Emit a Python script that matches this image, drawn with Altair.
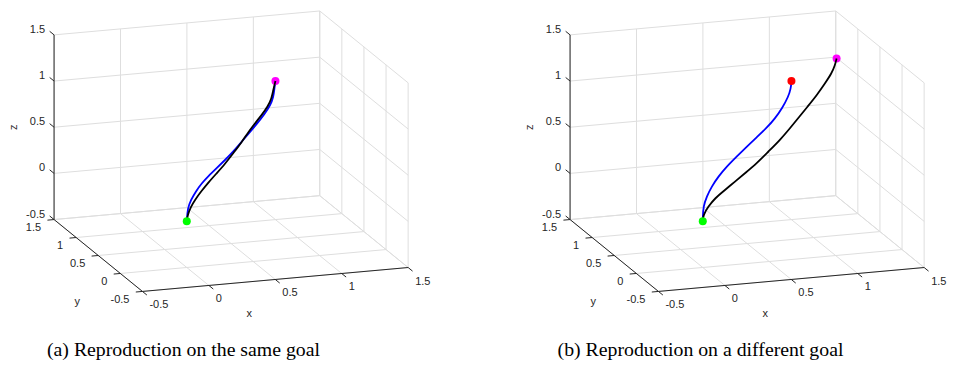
import altair as alt
import numpy as np
import pandas as pd

# ---------------- data ----------------
TICKS = [-0.5, 0.0, 0.5, 1.0, 1.5]
TICK_TEXT = ["-0.5", "0", "0.5", "1", "1.5"]
LO, HI = -0.5, 1.5

# (a) same goal: demonstration (blue) and reproduction (black)
A_BLUE_X = [0.000, 0.010, 0.047, 0.100, 0.168, 0.242, 0.337, 0.431, 0.524, 0.619, 0.713, 0.797, 0.876, 0.944, 0.977, 0.989, 1.000]
A_BLUE_Y = [0.000, 0.010, 0.047, 0.100, 0.168, 0.242, 0.337, 0.431, 0.524, 0.619, 0.713, 0.797, 0.876, 0.944, 0.977, 0.989, 1.000]
A_BLUE_Z = [0.000, 0.137, 0.207, 0.269, 0.325, 0.362, 0.401, 0.440, 0.482, 0.541, 0.597, 0.650, 0.706, 0.769, 0.838, 0.929, 1.000]

A_BLACK_X = [0.000, 0.010, 0.047, 0.092, 0.160, 0.242, 0.337, 0.431, 0.524, 0.619, 0.693, 0.769, 0.844, 0.912, 0.957, 0.975, 1.000]
A_BLACK_Y = [0.000, 0.010, 0.047, 0.092, 0.160, 0.242, 0.337, 0.431, 0.524, 0.619, 0.693, 0.769, 0.844, 0.912, 0.957, 0.975, 1.000]
A_BLACK_Z = [0.000, 0.064, 0.135, 0.184, 0.238, 0.293, 0.345, 0.397, 0.466, 0.535, 0.605, 0.662, 0.712, 0.767, 0.834, 0.915, 1.000]

# (b) different goal
B_BLUE_X = [0.000, 0.001, 0.006, 0.044, 0.100, 0.175, 0.269, 0.382, 0.495, 0.608, 0.720, 0.814, 0.899, 0.964, 0.994, 1.000]
B_BLUE_Y = [0.000, 0.001, 0.006, 0.044, 0.100, 0.175, 0.269, 0.382, 0.495, 0.608, 0.720, 0.814, 0.899, 0.964, 0.994, 1.000]
B_BLUE_Z = [0.000, 0.051, 0.156, 0.245, 0.324, 0.393, 0.452, 0.502, 0.551, 0.595, 0.638, 0.690, 0.765, 0.848, 0.923, 1.000]

B_BLACK_X = [0.000, 0.005, 0.055, 0.122, 0.222, 0.323, 0.422, 0.540, 0.655, 0.773, 0.872, 0.963, 1.053, 1.143, 1.223, 1.290, 1.324, 1.340]
B_BLACK_Y = [0.000, 0.004, 0.041, 0.091, 0.166, 0.241, 0.315, 0.403, 0.489, 0.577, 0.651, 0.719, 0.786, 0.853, 0.913, 0.963, 0.988, 1.000]
B_BLACK_Z = [0.000, 0.067, 0.136, 0.199, 0.246, 0.294, 0.343, 0.401, 0.478, 0.555, 0.640, 0.722, 0.805, 0.888, 0.979, 1.059, 1.135, 1.200]

START = (0.0, 0.0, 0.0)
GOAL_A = (1.0, 1.0, 1.0)
GOAL_B_OLD = (1.0, 1.0, 1.0)
GOAL_B_NEW = (1.34, 1.0, 1.2)

CAPTIONS = ["(a) Reproduction on the same goal", "(b) Reproduction on a different goal"]

# ---------------- 3-D view (orthographic) ----------------
AZ, EL = -18.4, 22.3          # degrees
SH, SV = 140.0, 99.8          # px per unit, horizontal / vertical
CX, CY = 231.1, 151.2         # where the box centre lands inside a panel
PANEL_H = 330

GRID_C = "#dedede"
AXIS_C = "#262626"


def proj(x, y, z):
    a, e = np.radians(AZ), np.radians(EL)
    dx, dy, dz = np.asarray(x) - 0.5, np.asarray(y) - 0.5, np.asarray(z) - 0.5
    u = SH * (dx * np.cos(a) + dy * np.sin(a))
    v = SV * (-dx * np.sin(a) * np.sin(e) + dy * np.cos(a) * np.sin(e) + dz * np.cos(e))
    return u, v


def seg_df(segs):
    rows = []
    for p, q in segs:
        u1, v1 = proj(*p)
        u2, v2 = proj(*q)
        rows.append(dict(u=float(u1), v=float(v1), u2=float(u2), v2=float(v2)))
    return pd.DataFrame(rows)


def grid_segments():
    s = []
    for t in TICKS:
        s.append(((t, HI, LO), (t, HI, HI)))   # back wall verticals
        s.append(((LO, HI, t), (HI, HI, t)))   # back wall horizontals
        s.append(((HI, t, LO), (HI, t, HI)))   # side wall verticals
        s.append(((HI, LO, t), (HI, HI, t)))   # side wall horizontals
        s.append(((t, LO, LO), (t, HI, LO)))   # floor, const x
        s.append(((LO, t, LO), (HI, t, LO)))   # floor, const y
    return s


AXIS_SEGS = [((LO, LO, LO), (HI, LO, LO)),
             ((LO, LO, LO), (LO, HI, LO)),
             ((LO, HI, LO), (LO, HI, HI))]


def tick_segments():
    s = []
    for t in TICKS:
        s.append(((t, LO, LO), (t, LO - 0.1, LO)))
        s.append(((LO, t, LO), (LO - 0.05, t, LO)))
        s.append(((LO, HI, t), (LO, HI + 0.1, t)))
    return s


def label_df(points, texts):
    u, v = proj([p[0] for p in points], [p[1] for p in points], [p[2] for p in points])
    return pd.DataFrame(dict(u=u, v=v, t=texts))


def curve_df(name, xs, ys, zs):
    u, v = proj(xs, ys, zs)
    return pd.DataFrame(dict(u=u, v=v, i=range(len(xs)), s=name))


def panel(width, curves_under, dots, curves_over, caption, title_dx):
    xs = alt.Scale(domain=[-CX, width - CX], nice=False, zero=False)
    ys = alt.Scale(domain=[CY - PANEL_H, CY], nice=False, zero=False)
    X = lambda f="u": alt.X(f"{f}:Q", scale=xs, axis=None)
    Y = lambda f="v": alt.Y(f"{f}:Q", scale=ys, axis=None)

    def rules(df, color, w):
        return alt.Chart(df).mark_rule(color=color, strokeWidth=w).encode(
            x=X(), y=Y(), x2="u2:Q", y2="v2:Q")

    layers = [rules(seg_df(grid_segments()), GRID_C, 1),
              rules(seg_df(AXIS_SEGS), AXIS_C, 1),
              rules(seg_df(tick_segments()), AXIS_C, 1)]

    font = dict(font="Liberation Sans", fontSize=11, color=AXIS_C)
    xl = label_df([(t, LO, LO) for t in TICKS], TICK_TEXT)
    yl = label_df([(LO, t, LO) for t in TICKS], TICK_TEXT)
    zl = label_df([(LO, HI, t) for t in TICKS], TICK_TEXT)
    layers.append(alt.Chart(xl).mark_text(align="left", baseline="middle", dx=7, dy=14, **font)
                  .encode(x=X(), y=Y(), text="t:N"))
    layers.append(alt.Chart(yl).mark_text(align="right", baseline="middle", dx=-13, dy=8.5, **font)
                  .encode(x=X(), y=Y(), text="t:N"))
    layers.append(alt.Chart(zl).mark_text(align="right", baseline="middle", dx=-9, dy=-5, **font)
                  .encode(x=X(), y=Y(), text="t:N"))
    layers.append(alt.Chart(label_df([(0.5, LO, LO)], ["x"])).mark_text(
        align="center", baseline="middle", dx=-26, dy=34.5, **font).encode(x=X(), y=Y(), text="t:N"))
    layers.append(alt.Chart(label_df([(LO, 0.5, LO)], ["y"])).mark_text(
        align="center", baseline="middle", dx=-21, dy=47, **font).encode(x=X(), y=Y(), text="t:N"))
    # rotated text: dy moves it horizontally on screen
    layers.append(alt.Chart(label_df([(LO, HI, 0.5)], ["z"])).mark_text(
        align="center", baseline="middle", dx=0, dy=-40, angle=270, **font).encode(x=X(), y=Y(), text="t:N"))

    col = alt.Color("s:N", scale=alt.Scale(domain=["demo", "repro", "start", "goal", "newgoal"],
                                           range=["#0000ff", "#000000", "#00ff00", "#ff0000", "#ff00ff"]),
                    legend=None)

    for c in curves_under:
        layers.append(alt.Chart(c).mark_line(strokeWidth=1.8, interpolate="basis")
                      .encode(x=X(), y=Y(), order="i:Q", color=col))
    pts = dots[dots["s"] != "start"]
    layers.append(alt.Chart(pts).mark_circle(size=64, opacity=1).encode(x=X(), y=Y(), color=col))
    for c in curves_over:
        layers.append(alt.Chart(c).mark_line(strokeWidth=1.8, interpolate="basis")
                      .encode(x=X(), y=Y(), order="i:Q", color=col))
    st = dots[dots["s"] == "start"]
    layers.append(alt.Chart(st).mark_circle(size=64, opacity=1).encode(x=X(), y=Y(), color=col))

    return alt.layer(*layers).properties(
        width=width, height=PANEL_H,
        view=alt.ViewBackground(stroke="transparent", strokeWidth=0),
        title=alt.TitleParams(text=caption, orient="bottom", anchor="middle", frame="group",
                              dx=title_dx, offset=10, font="Liberation Serif", fontSize=19.8,
                              fontWeight="normal", color="black"))


def dots_df(items):
    xs = [p[0] for _, p in items]
    ys = [p[1] for _, p in items]
    zs = [p[2] for _, p in items]
    u, v = proj(xs, ys, zs)
    return pd.DataFrame(dict(u=u, v=v, s=[n for n, _ in items]))


pa = panel(476,
           [curve_df("demo", A_BLUE_X, A_BLUE_Y, A_BLUE_Z)],
           dots_df([("start", START), ("newgoal", GOAL_A)]),
           [curve_df("repro", A_BLACK_X, A_BLACK_Y, A_BLACK_Z)],
           CAPTIONS[0], -54.5)
pb = panel(437,
           [curve_df("demo", B_BLUE_X, B_BLUE_Y, B_BLUE_Z)],
           dots_df([("start", START), ("goal", GOAL_B_OLD), ("newgoal", GOAL_B_NEW)]),
           [curve_df("repro", B_BLACK_X, B_BLACK_Y, B_BLACK_Z)],
           CAPTIONS[1], -34)

chart = (alt.hconcat(pa, pb, spacing=40)
         .properties(padding=0, background="white")
         .configure_view(strokeWidth=0, stroke="transparent"))
chart.save("out.html", embed_options={"renderer": "svg", "actions": False})
